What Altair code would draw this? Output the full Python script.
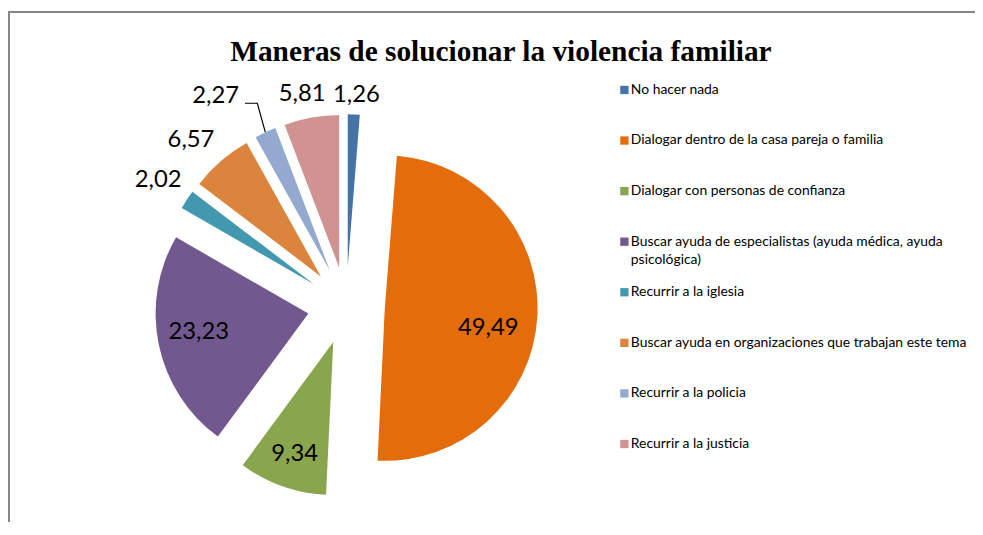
import altair as alt
import pandas as pd

# ---- data ----
TITLE = "Maneras de solucionar la violencia familiar"
categories = [
    "No hacer nada",
    "Dialogar dentro de la casa pareja o familia",
    "Dialogar con personas de confianza",
    "Buscar ayuda de especialistas (ayuda médica, ayuda psicológica)",
    "Recurrir a la iglesia",
    "Buscar ayuda en organizaciones que trabajan este tema",
    "Recurrir a la policia",
    "Recurrir a la justicia",
]
values = [1.26, 49.49, 9.34, 23.23, 2.02, 6.57, 2.27, 5.81]

# ---- styles ----
colors = ["#4572A7", "#E46C0A", "#89A54E", "#71588F", "#4198AF", "#DB843D", "#93A9CF", "#D19392"]
label_radius = [213, 145, 158, 151, 228, 228.5, 249, 217.6]   # px from pie centre
label_shift = [0.5, 5.3, -0.3, 1.8, 0.1, -2.3, -6.9, -1.3]    # degrees
leader = [0, 0, 0, 0, 0, 0, 1, 0]

W, H = 975, 514
CX, CY = 341, 298     # pie centre (plot coords)
R = 154               # pie radius
E = 39                # explosion distance
LEG_TOP, LEG_STEP = 80.5, 51
LEG_SYM_X, LEG_TXT_X = 621.5, 628

df = pd.DataFrame({
    "category": categories,
    "value": values,
    "order": list(range(len(values))),
    "lab_r": label_radius,
    "lab_shift": label_shift,
    "leader": leader,
})
one = pd.DataFrame({"t": [TITLE]})

base = (
    alt.Chart(df)
    .transform_joinaggregate(total="sum(value)")
    .transform_window(cum="sum(value)", sort=[alt.SortField("order")], frame=[None, 0])
    .transform_calculate(
        t0="(datum.cum - datum.value) / datum.total * 2 * PI",
        t1="datum.cum / datum.total * 2 * PI",
    )
    .transform_calculate(mid="(datum.t0 + datum.t1) / 2")
    .transform_calculate(
        px=f"{CX} + {E} * sin(datum.mid)",
        py=f"{CY} - {E} * cos(datum.mid)",
        la="datum.mid + datum.lab_shift * PI / 180",
    )
    .transform_calculate(
        lx=f"{CX} + datum.lab_r * sin(datum.la)",
        ly=f"{CY} - datum.lab_r * cos(datum.la)",
        txt="replace(format(datum.value, '.2f'), '.', ',')",
    )
)

color = alt.Color("category:N", scale=alt.Scale(domain=categories, range=colors), legend=None)

arcs = base.mark_arc(radius=R).encode(
    theta=alt.Theta("t0:Q", scale=None, stack=None),
    theta2="t1:Q",
    x=alt.X("px:Q", scale=None),
    y=alt.Y("py:Q", scale=None),
    color=color,
)

labels = base.mark_text(font="Lato", fontSize=24, color="black", align="center", baseline="middle").encode(
    x=alt.X("lx:Q", scale=None),
    y=alt.Y("ly:Q", scale=None),
    text="txt:N",
)

leaders = (
    base.transform_filter("datum.leader == 1")
    .transform_calculate(
        ex=f"{CX} + ({E} + {R}) * sin(datum.mid)",
        ey=f"{CY} - ({E} + {R}) * cos(datum.mid)",
        pts="[0, 1, 2]",
    )
    .transform_flatten(["pts"])
    .transform_calculate(
        qx="datum.pts == 0 ? datum.lx + 29.5 : datum.pts == 1 ? datum.lx + 42 : datum.ex",
        qy="datum.pts == 2 ? datum.ey : datum.ly + 7.3",
    )
    .mark_line(color="black", strokeWidth=1.2)
    .encode(
        x=alt.X("qx:Q", scale=None),
        y=alt.Y("qy:Q", scale=None),
        order="pts:Q",
    )
)

leg_y = alt.Y(
    "category:N",
    scale=alt.Scale(type="point", domain=categories, range=[LEG_TOP, LEG_TOP + LEG_STEP * (len(categories) - 1)], padding=0),
    axis=None,
)
leg_sym = alt.Chart(df).mark_square(size=70, opacity=1).encode(
    x=alt.value(LEG_SYM_X), y=leg_y, color=color
)
leg_txt = (
    alt.Chart(df)
    .transform_calculate(lbl="replace(datum.category, ' psicológica', '\\npsicológica')")
    .mark_text(font="Lato", fontSize=14, color="black", align="left", baseline="middle",
               lineBreak="\n", lineHeight=18)
    .encode(x=alt.value(LEG_TXT_X), y=leg_y, text="lbl:N")
)

title = alt.Chart(one).mark_text(
    font="Liberation Serif", fontSize=29.6, fontWeight="bold", color="black",
    align="center", baseline="alphabetic"
).encode(x=alt.value(497), y=alt.value(51.7), text="t:N")

border_top = alt.Chart(one).mark_rule(color="#868686", strokeWidth=2).encode(
    x=alt.value(0), x2=alt.value(W + 10), y=alt.value(2)
)
border_left = alt.Chart(one).mark_rule(color="#868686", strokeWidth=2).encode(
    x=alt.value(1), y=alt.value(1), y2=alt.value(H + 10)
)

chart = (
    alt.layer(border_top, border_left, title, arcs, labels, leaders, leg_sym, leg_txt)
    .resolve_scale(x="independent", y="independent", color="shared")
    .properties(width=W, height=H, padding=0, autosize=alt.AutoSizeParams(type="none"))
    .configure_view(stroke=None)
)

chart.save("out.html", embed_options={"renderer": "svg", "actions": False})
